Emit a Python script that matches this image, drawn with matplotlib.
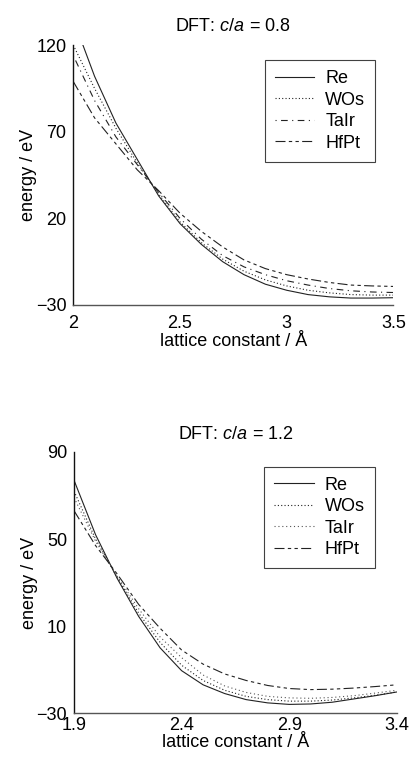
import matplotlib
matplotlib.use("Agg")
import matplotlib.pyplot as plt

plt.rcParams['font.family'] = ['Liberation Sans', 'DejaVu Sans']
plt.rcParams['mathtext.fontset'] = 'custom'
plt.rcParams['mathtext.rm'] = 'Liberation Sans'
plt.rcParams['mathtext.it'] = 'Liberation Sans:italic'

labels = ["Re", "WOs", "TaIr", "HfPt"]

# Panel 1: c/a = 0.8
x_top = [2.0, 2.1, 2.2, 2.3, 2.4, 2.5, 2.6, 2.7, 2.8, 2.9, 3.0, 3.1, 3.2, 3.3, 3.4, 3.5]
re_top = [135, 102, 75, 54, 33, 17, 5, -5, -12.5, -18, -21.5, -24, -25.3, -26, -26, -25.8]
wos_top = [120, 95, 72, 52, 34, 18, 6, -3.5, -10.5, -15.5, -19, -21.5, -23, -24, -24.3, -24.3]
tair_top = [114, 88, 67, 51, 35, 20, 8, -1.5, -8, -12.5, -16, -18.5, -20.5, -21.8, -22.5, -22.8]
hfpt_top = [99, 78, 63, 48, 36, 23, 12.5, 3.5, -4, -9, -12.5, -15, -17, -18.5, -19, -19.3]
xticks_top = [2, 2.5, 3, 3.5]
xticklabels_top = ["2", "2.5", "3", "3.5"]
yticks_top = [-30, 20, 70, 120]

# Panel 2: c/a = 1.2
x_bot = [1.9, 2.0, 2.1, 2.2, 2.3, 2.4, 2.5, 2.6, 2.7, 2.8, 2.9, 3.0, 3.1, 3.2, 3.3, 3.4]
re_bot = [77, 52, 32, 14.5, 0, -10.5, -17, -21, -23.8, -25.3, -26, -25.8, -25, -23.5, -22, -20.3]
wos_bot = [72, 50, 32.5, 16, 2.5, -8, -15, -19.5, -22.3, -23.8, -24.5, -24.5, -24, -23, -21.8, -20.3]
tair_bot = [69, 49, 33, 18, 5, -4.5, -12.5, -17.5, -20.5, -22.3, -23, -23.2, -22.8, -22, -20.8, -19.5]
hfpt_bot = [63, 47, 34, 20, 9, -1, -7.5, -12, -15, -17.3, -18.7, -19.2, -19, -18.5, -17.8, -17]
xticks_bot = [1.9, 2.4, 2.9, 3.4]
xticklabels_bot = ["1.9", "2.4", "2.9", "3.4"]
yticks_bot = [-30, 10, 50, 90]

fig = plt.figure(figsize=(4.09, 7.60), dpi=100)

lc = '#222222'
FS = 13

def style_axes(ax, xlim, ylim, xticks, xticklabels, yticks, title, xpad, tpad, lpad):
    ax.set_xlim(*xlim)
    ax.set_ylim(*ylim)
    ax.set_xticks(xticks)
    ax.set_xticklabels(xticklabels)
    ax.set_yticks(yticks)
    ax.tick_params(axis='both', length=0, labelsize=FS)
    ax.tick_params(axis='x', pad=xpad)
    ax.tick_params(axis='y', pad=5)
    for s in ['top', 'right']:
        ax.spines[s].set_visible(False)
    ax.spines['left'].set_linewidth(1.0)
    ax.spines['left'].set_color('#111111')
    ax.spines['bottom'].set_linewidth(1.0)
    ax.spines['bottom'].set_color('#555555')
    ax.set_title(title, fontsize=FS, pad=tpad)
    ax.set_xlabel("lattice constant / Å", fontsize=FS, labelpad=lpad)
    ax.set_ylabel("energy / eV", fontsize=FS, labelpad=-1)

legkw = dict(fontsize=FS, frameon=True, fancybox=False, edgecolor='#111111',
             handlelength=2.2, handletextpad=0.6, labelspacing=0.25,
             borderpad=0.55, borderaxespad=0)

# top axes
ax1 = fig.add_axes([0.179, 0.5987, 0.783, 0.342])
ax1.plot(x_top, re_top, color=lc, lw=0.8, ls='-', label=labels[0])
ax1.plot(x_top, wos_top, color=lc, lw=0.8, ls=(0, (1, 2)), label=labels[1])
ax1.plot(x_top, tair_top, color=lc, lw=0.8, ls=(0, (1, 4, 6, 4)), label=labels[2])
ax1.plot(x_top, hfpt_top, color=lc, lw=0.8, ls=(0, (9, 3, 3, 3, 3, 3)), label=labels[3])
style_axes(ax1, (2, 3.5), (-30, 120), xticks_top, xticklabels_top, yticks_top,
           "DFT: $c/a$ = 0.8", 7, 10, 1)
leg1 = ax1.legend(loc='upper right', bbox_to_anchor=(0.943, 0.942), **legkw)
leg1.get_frame().set_linewidth(0.8)

# bottom axes
ax2 = fig.add_axes([0.181, 0.0617, 0.789, 0.3436])
ax2.plot(x_bot, re_bot, color=lc, lw=0.8, ls='-', label=labels[0])
ax2.plot(x_bot, wos_bot, color=lc, lw=0.8, ls=(0, (1, 2)), label=labels[1])
ax2.plot(x_bot, tair_bot, color='#555555', lw=0.8, ls=(0, (1, 2.5)), label=labels[2])
ax2.plot(x_bot, hfpt_bot, color=lc, lw=0.8, ls=(0, (9, 3, 3, 3, 3, 3)), label=labels[3])
style_axes(ax2, (1.9, 3.4), (-30, 90), xticks_bot, xticklabels_bot, yticks_bot,
           "DFT: $c/a$ = 1.2", 3, 9, 0)
leg2 = ax2.legend(loc='upper right', bbox_to_anchor=(0.932, 0.943), **legkw)
leg2.get_frame().set_linewidth(0.8)

fig.savefig("out.png", dpi=100)
